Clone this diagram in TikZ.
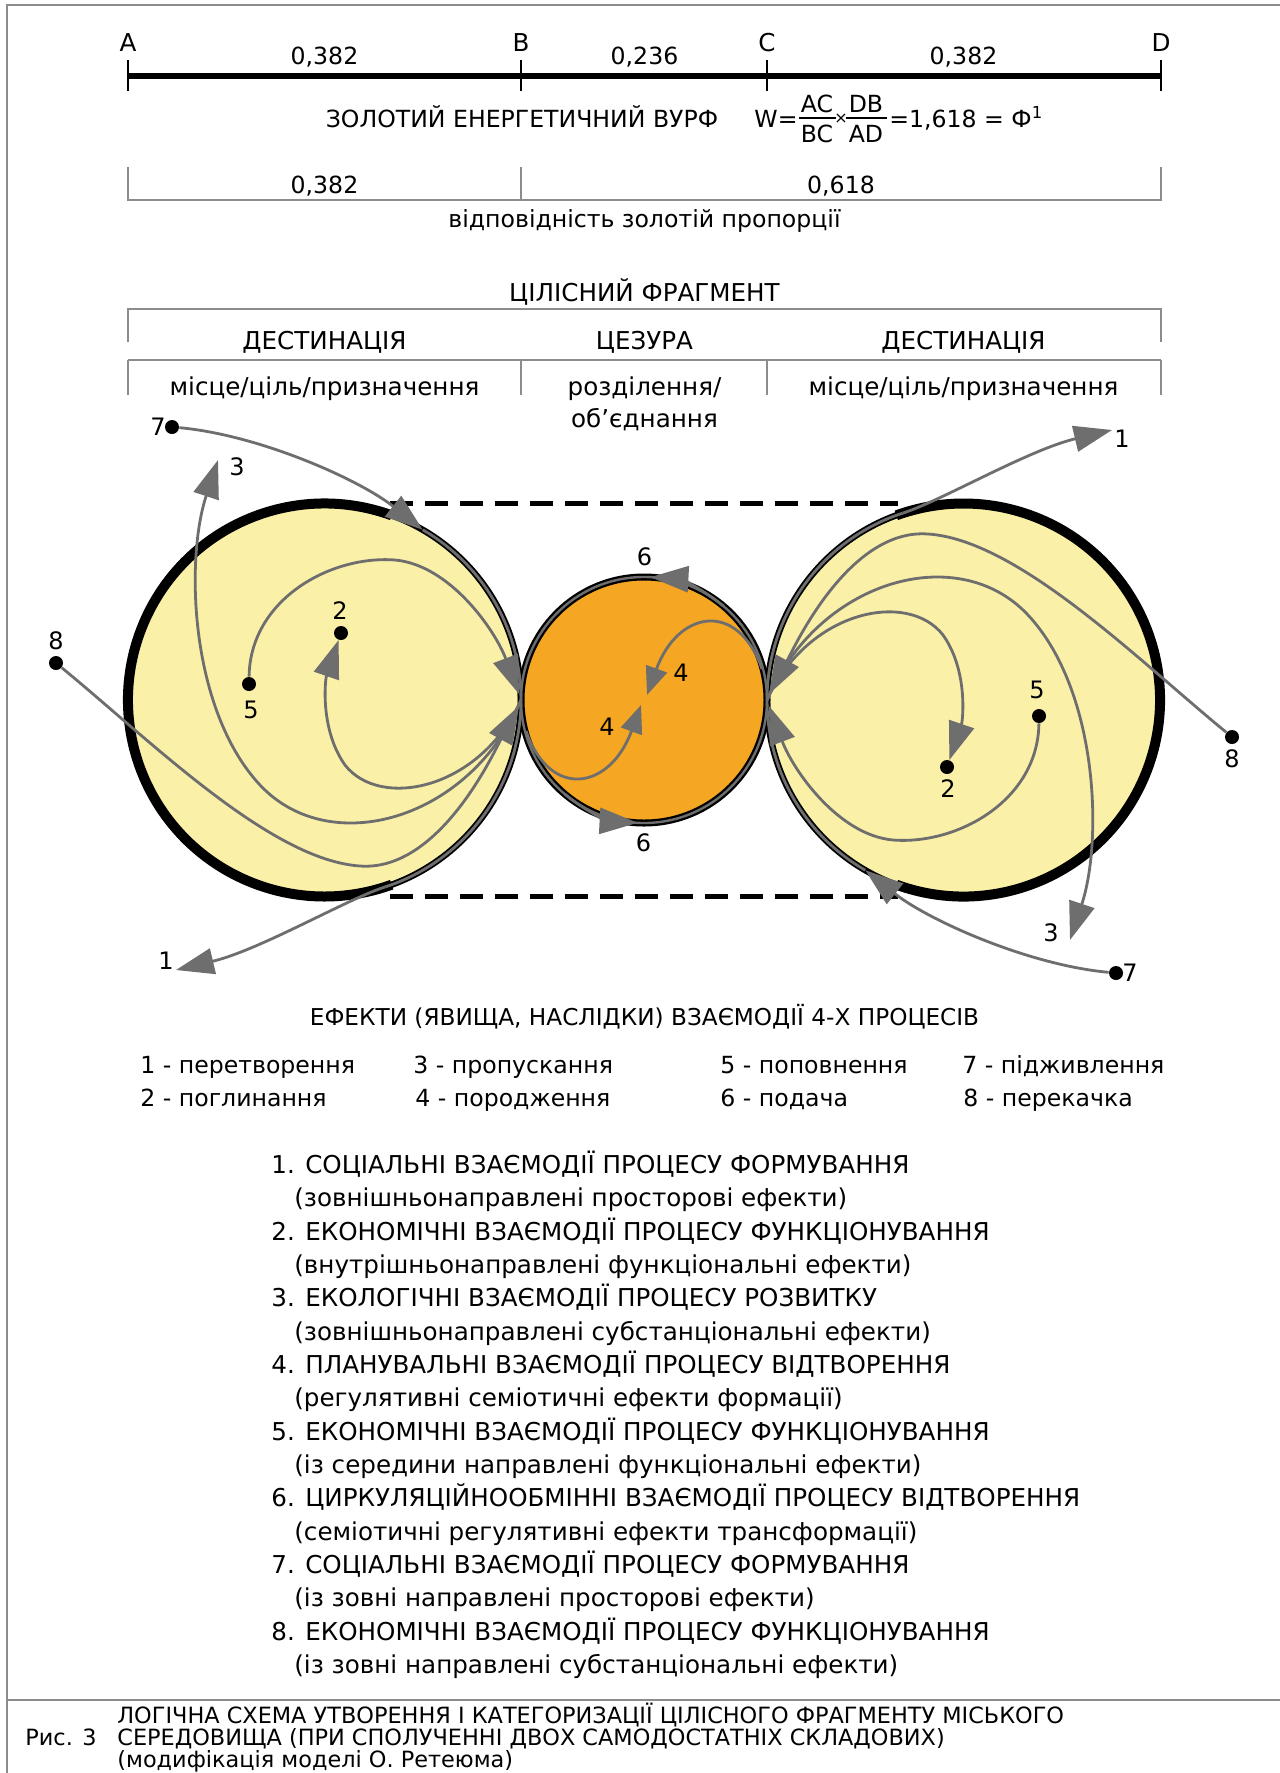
\documentclass[tikz,border=0pt]{standalone}
\usepackage{fontspec}
\setmainfont{DejaVu Sans}
\usetikzlibrary{arrows.meta}
\definecolor{paleyellow}{HTML}{FBF0A8}
\definecolor{corange}{HTML}{F5A623}
\definecolor{flowgrey}{HTML}{6E6E6E}
\definecolor{framegrey}{HTML}{8C8C8C}

\newcommand\halfcircle{%
  \fill[paleyellow] (324.5,700) circle[radius=196.5];
  \draw[line width=3.2pt] (324.5,700) circle[radius=196.5];
  \draw[line width=5pt] (324.5,700) ++(-70:196.5) arc[start angle=-70, end angle=-290, radius=196.5];
}

\newcommand\halfcurves[1]{%
  \node[dotnode] (#1d7) at (172,427) {};
  \node[dotnode] (#1d8) at (56,663) {};
  \node[dotnode] (#1d2) at (341,633) {};
  \node[dotnode] (#1d5) at (249,684) {};
  \coordinate (#1B) at (521,700);
  \coordinate (#1P7) at (422.7,529.8);
  \coordinate (#1P1) at (385.2,886.9);
  \coordinate (#1t3) at (218,460);
  \coordinate (#1t1) at (176,970);
  \coordinate (#1e8) at (519,706);
  \coordinate (#1e5) at (519,694);
  \coordinate (#1s4) at (526,731);
  \coordinate (#1t4) at (641,705);
  \coordinate (#1s6) at (644,700);
  % 7: feeding along the rim
  \draw[flowarr] (#1d7) .. controls (260,435) and (360,480) .. (#1P7);
  \draw[flow] (#1P7) arc[start angle=-60, end angle=0, radius=196.5];
  % 1: transformation, out along the rim
  \draw[flow] (#1B) arc[start angle=0, end angle=72, radius=196.5];
  \draw[flowarr] (#1P1) .. controls (347,899) and (260,950) .. (#1t1);
  % 3: passing
  \draw[flowarr] (#1B) .. controls (470,820) and (330,860) .. (260,785) .. controls (190,710) and (185,560) .. (#1t3);
  % 2: absorption
  \draw[flowarr] (#1B) .. controls (480,790) and (380,810) .. (345,765) .. controls (320,730) and (325,680) .. (#1d2);
  % 8: pumping
  \draw[flowarr] (#1d8) .. controls (150,740) and (270,860) .. (360,866) .. controls (440,872) and (495,750) .. (#1e8);
  % 5: replenishment
  \draw[flowarr] (#1d5) .. controls (250,600) and (330,555) .. (395,560) .. controls (450,565) and (495,630) .. (#1e5);
  % 4: generation
  \draw[flowarr4] (#1s4) .. controls (550,800) and (610,790) .. (#1t4);
  % 6: supply
  \draw[flowarr] (#1s6) ++(-50:123) arc[start angle=-50, end angle=-87, radius=123];
  % labels
  \node[num] (#1n7) at (158,427) {7};
  \node[num] (#1n8) at (56,641) {8};
  \node[num] (#1n2) at (340,611) {2};
  \node[num] (#1n5) at (251,710) {5};
  \node[num] (#1n3) at (237,467) {3};
  \node[num] (#1n1) at (166,961) {1};
  \node[num] (#1n4) at (607,727) {4};
  \node[num] (#1n6) at (644.5,557) {6};
}

\begin{document}
\begin{tikzpicture}[x=0.5pt,y=-0.5pt,
  txt/.style={inner sep=0pt, text height=9pt, text depth=0pt, font=\fontsize{12.3}{15}\selectfont},
  txts/.style={txt, font=\fontsize{11.8}{14}\selectfont},
  capt/.style={inner sep=0pt, text height=8.2pt, text depth=0pt, font=\fontsize{11.2}{13}\selectfont, anchor=west},
  num/.style={inner sep=0pt, text height=8.8pt, text depth=0pt, font=\fontsize{12}{14}\selectfont},
  flow/.style={draw=flowgrey, line width=1.4pt},
  flowarr/.style={flow, -{Triangle[length=19pt,width=13pt,fill=flowgrey]}},
  flowarr4/.style={flow, -{Triangle[length=14pt,width=11pt,fill=flowgrey]}},
  dotnode/.style={circle, fill=black, inner sep=0pt, minimum size=7pt},
  thinline/.style={draw=framegrey, line width=0.7pt},
  dashline/.style={line width=2.5pt, dash pattern=on 11.5pt off 6pt}]
\useasboundingbox (0,0) rectangle (1280,1773);
\fill[white] (0,0) rectangle (1280,1773);
% frame
\draw[framegrey, line width=1pt] (1280,5) -- (7,5) -- (7,1773);
\draw[framegrey, line width=1pt] (7,1700) -- (1280,1700);

% ruler
\coordinate (A) at (128,76);
\coordinate (B) at (521,76);
\coordinate (C) at (767,76);
\coordinate (D) at (1161,76);
\draw[line width=2.6pt] (A) -- (D);
\foreach \p in {A,B,C,D} \draw[line width=1pt] (\p) ++(0,-16) -- ++(0,31);
\node[txt] (lA) at (128,42) {A};
\node[txt] (lB) at (521,42) {B};
\node[txt] (lC) at (767,42) {C};
\node[txt] (lD) at (1161,42) {D};
\node[txts] (r1) at (324.5,55) {0,382};
\node[txts] (r2) at (644.5,55) {0,236};
\node[txts] (r3) at (963.5,55) {0,382};

% formula
\node[txts] (vurf) at (522,118) {ЗОЛОТИЙ ЕНЕРГЕТИЧНИЙ ВУРФ};
\node[txts, anchor=east] (weq) at (798,118) {W=};
\node[txts] (ac) at (817,103) {AC};
\node[txts] (bc) at (817,133) {BC};
\draw[line width=0.6pt] (799,118) -- (836,118);
\node[inner sep=0pt, font=\fontsize{8}{9}\selectfont] (times) at (841,119) {×};
\node[txts] (db) at (866,103) {DB};
\node[txts] (ad) at (866,133) {AD};
\draw[line width=0.6pt] (846,118) -- (887,118);
\node[txts, anchor=west] (res) at (889,118) {=1,618 = Ф\textsuperscript{1}};

% golden proportion bracket
\draw[thinline] (128,167) -- (128,200) -- (1161,200) -- (1161,167);
\draw[thinline] (521,167) -- (521,200);
\node[txts] (g1) at (324.5,184) {0,382};
\node[txts] (g2) at (841,184) {0,618};
\node[txts] (gp) at (644.5,218) {відповідність золотій пропорції};

% whole fragment bracket
\node[txt] (cf) at (644.5,292) {ЦІЛІСНИЙ ФРАГМЕНТ};
\draw[thinline] (128,342) -- (128,309) -- (1161,309) -- (1161,342);
\draw[thinline] (128,360) -- (1161,360);
\foreach \x in {128,521,767,1161} \draw[thinline] (\x,360) -- (\x,395);
\node[txt] (de1) at (324.5,340) {ДЕСТИНАЦІЯ};
\node[txt] (ce) at (644.5,340) {ЦЕЗУРА};
\node[txt] (de2) at (963.5,340) {ДЕСТИНАЦІЯ};
\node[txt] (mi1) at (324.5,386) {місце/ціль/призначення};
\node[txt] (rz) at (644.5,386) {розділення/};
\node[txt] (ob) at (644.5,418) {об'єднання};
\node[txt] (mi2) at (963.5,386) {місце/ціль/призначення};

% circles
\halfcircle
\begin{scope}[rotate around={180:(644,700)}]
\halfcircle
\end{scope}
\fill[corange] (644,700) circle[radius=123];
\draw[line width=3.5pt] (644,700) circle[radius=123];
\draw[flowgrey, line width=1.2pt] (644,700) circle[radius=123];
\draw[dashline] (390,503.5) -- (898,503.5);
\draw[dashline] (390,896.5) -- (898,896.5);

% flows
\halfcurves{L}
\begin{scope}[rotate around={180:(644,700)}]
\halfcurves{R}
\end{scope}

% legend
\node[txt, font=\fontsize{11.6}{14}\selectfont] (eff) at (644.5,1016) {ЕФЕКТИ (ЯВИЩА, НАСЛІДКИ) ВЗАЄМОДІЇ 4-Х ПРОЦЕСІВ};
\node[txts, anchor=west] (e1) at (140,1064) {1 - перетворення};
\node[txts, anchor=west] (e3) at (413,1064) {3 - пропускання};
\node[txts, anchor=west] (e5) at (720,1064) {5 - поповнення};
\node[txts, anchor=west] (e7) at (962,1064) {7 - підживлення};
\node[txts, anchor=west] (e2) at (140,1097) {2 - поглинання};
\node[txts, anchor=west] (e4) at (415,1097) {4 - породження};
\node[txts, anchor=west] (e6) at (720,1097) {6 - подача};
\node[txts, anchor=west] (e8) at (963,1097) {8 - перекачка};

% numbered list
\node[txt, anchor=west] (i1) at (271,1164.6) {1. СОЦІАЛЬНІ ВЗАЄМОДІЇ ПРОЦЕСУ ФОРМУВАННЯ};
\node[txt, anchor=west] (s1) at (294,1197.9) {(зовнішньонаправлені просторові ефекти)};
\node[txt, anchor=west] (i2) at (271,1231.2) {2. ЕКОНОМІЧНІ ВЗАЄМОДІЇ ПРОЦЕСУ ФУНКЦІОНУВАННЯ};
\node[txt, anchor=west] (s2) at (294,1264.6) {(внутрішньонаправлені функціональні ефекти)};
\node[txt, anchor=west] (i3) at (271,1297.9) {3. ЕКОЛОГІЧНІ ВЗАЄМОДІЇ ПРОЦЕСУ РОЗВИТКУ};
\node[txt, anchor=west] (s3) at (294,1331.2) {(зовнішньонаправлені субстанціональні ефекти)};
\node[txt, anchor=west] (i4) at (271,1364.5) {4. ПЛАНУВАЛЬНІ ВЗАЄМОДІЇ ПРОЦЕСУ ВІДТВОРЕННЯ};
\node[txt, anchor=west] (s4) at (294,1397.8) {(регулятивні семіотичні ефекти формації)};
\node[txt, anchor=west] (i5) at (271,1431.2) {5. ЕКОНОМІЧНІ ВЗАЄМОДІЇ ПРОЦЕСУ ФУНКЦІОНУВАННЯ};
\node[txt, anchor=west] (s5) at (294,1464.5) {(із середини направлені функціональні ефекти)};
\node[txt, anchor=west] (i6) at (271,1497.8) {6. ЦИРКУЛЯЦІЙНООБМІННІ ВЗАЄМОДІЇ ПРОЦЕСУ ВІДТВОРЕННЯ};
\node[txt, anchor=west] (s6) at (294,1531.1) {(семіотичні регулятивні ефекти трансформації)};
\node[txt, anchor=west] (i7) at (271,1564.4) {7. СОЦІАЛЬНІ ВЗАЄМОДІЇ ПРОЦЕСУ ФОРМУВАННЯ};
\node[txt, anchor=west] (s7) at (294,1597.8) {(із зовні направлені просторові ефекти)};
\node[txt, anchor=west] (i8) at (271,1631.1) {8. ЕКОНОМІЧНІ ВЗАЄМОДІЇ ПРОЦЕСУ ФУНКЦІОНУВАННЯ};
\node[txt, anchor=west] (s8) at (294,1664.4) {(із зовні направлені субстанціональні ефекти)};

% caption
\node[capt] (fig) at (25,1737) {Рис. 3};
\node[capt] (c1) at (117,1715) {ЛОГІЧНА СХЕМА УТВОРЕННЯ І КАТЕГОРИЗАЦІЇ ЦІЛІСНОГО ФРАГМЕНТУ МІСЬКОГО};
\node[capt] (c2) at (117,1737) {СЕРЕДОВИЩА (ПРИ СПОЛУЧЕННІ ДВОХ САМОДОСТАТНІХ СКЛАДОВИХ)};
\node[capt] (c3) at (117,1759) {(модифікація моделі О. Ретеюма)};
\end{tikzpicture}
\end{document}
